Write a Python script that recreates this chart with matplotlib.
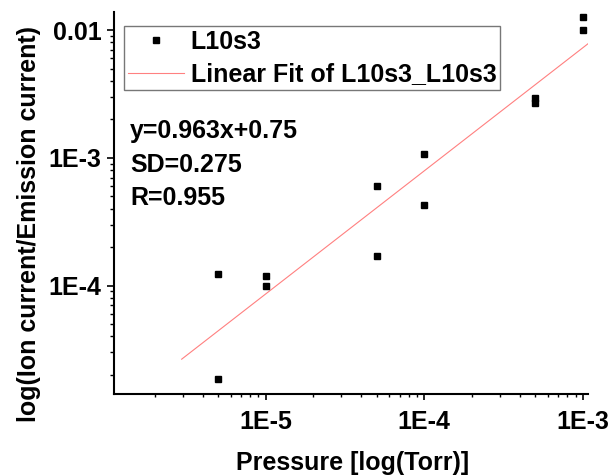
import numpy as np
import matplotlib
matplotlib.use("Agg")
from matplotlib import pyplot as plt

plt.rcParams['font.family'] = ['Liberation Sans', 'DejaVu Sans']
plt.rcParams['font.weight'] = 'bold'

# measured points, two readings per pressure
pressure = [5e-6, 5e-6, 1e-5, 1e-5, 5e-5, 5e-5, 1e-4, 1e-4, 5e-4, 5e-4, 1e-3, 1e-3]
ratio = [1.24e-4, 1.85e-5, 1.19e-4, 1.0e-4, 6.0e-4, 1.71e-4,
         1.07e-3, 4.26e-4, 2.96e-3, 2.71e-3, 1.26e-2, 1.0e-2]

# linear fit in log-log space
slope = 0.963
intercept = 0.75
fit_range = [2.95e-6, 1.079e-3]
fit_stats = ["y=0.963x+0.75", "SD=0.275", "R=0.955"]

x_ticks = [1e-5, 1e-4, 1e-3]
x_ticklabels = ["1E-5", "1E-4", "1E-3"]
y_ticks = [1e-4, 1e-3, 1e-2]
y_ticklabels = ["1E-4", "1E-3", "0.01"]

fs = 18

fig = plt.figure(figsize=(6.1, 4.76), dpi=100)
ax = fig.add_axes([114/610, 1-394/476, 474/610, 382/476])

ax.plot(pressure, ratio, linestyle='none', marker='s', markersize=5,
        color='black', label='L10s3', clip_on=False, zorder=3)

fx = np.array(fit_range)
fy = 10 ** (slope * np.log10(fx) + intercept)
ax.plot(fx, fy, color='#ff8080', linewidth=0.8, label='Linear Fit of L10s3_L10s3')

ax.set_xscale('log')
ax.set_yscale('log')
ax.set_xlim(1.104e-6, 1.079e-3)
ax.set_ylim(1.419e-5, 1.384e-2)

ax.set_xticks(x_ticks)
ax.set_xticklabels(x_ticklabels)
ax.set_yticks(y_ticks)
ax.set_yticklabels(y_ticklabels)
for lab in ax.get_xticklabels() + ax.get_yticklabels():
    lab.set_fontsize(fs)
    lab.set_fontweight('bold')

ax.spines['top'].set_visible(False)
ax.spines['right'].set_visible(False)
for s in ['left', 'bottom']:
    ax.spines[s].set_linewidth(1.5)

ax.tick_params(axis='x', which='major', direction='out', length=4.5, width=1.2, pad=7)
ax.tick_params(axis='x', which='minor', direction='out', length=2.5, width=1.0)
ax.tick_params(axis='y', which='major', direction='out', length=5, width=1.2, pad=4)
ax.tick_params(axis='y', which='minor', direction='out', length=3, width=1.0)

ax.set_xlabel('Pressure [log(Torr)]', fontsize=fs, fontweight='bold')
ax.xaxis.set_label_coords(0.504, -0.18)
ax.xaxis.label.set_va('center')
ax.set_ylabel('log(Ion current/Emission current)', fontsize=fs, fontweight='bold')
ax.yaxis.set_label_coords(-0.18, 0.445)
ax.yaxis.label.set_va('center')

leg = ax.legend(loc='upper left', bbox_to_anchor=(10/474, 1-14/382),
                frameon=True, fancybox=False, borderpad=0.15, handlelength=2.24,
                handletextpad=0.28, labelspacing=0.34, borderaxespad=0,
                markerscale=0.85, prop={'weight': 'bold', 'size': fs})
leg.get_frame().set_edgecolor('#555555')
leg.get_frame().set_linewidth(1.0)

stat_y = [0.688, 0.599, 0.514]
for txt, yy in zip(fit_stats, stat_y):
    ax.text(0.034, yy, txt, transform=ax.transAxes, fontsize=fs,
            fontweight='bold', va='center', ha='left')

fig.savefig('out.png', dpi=100)
